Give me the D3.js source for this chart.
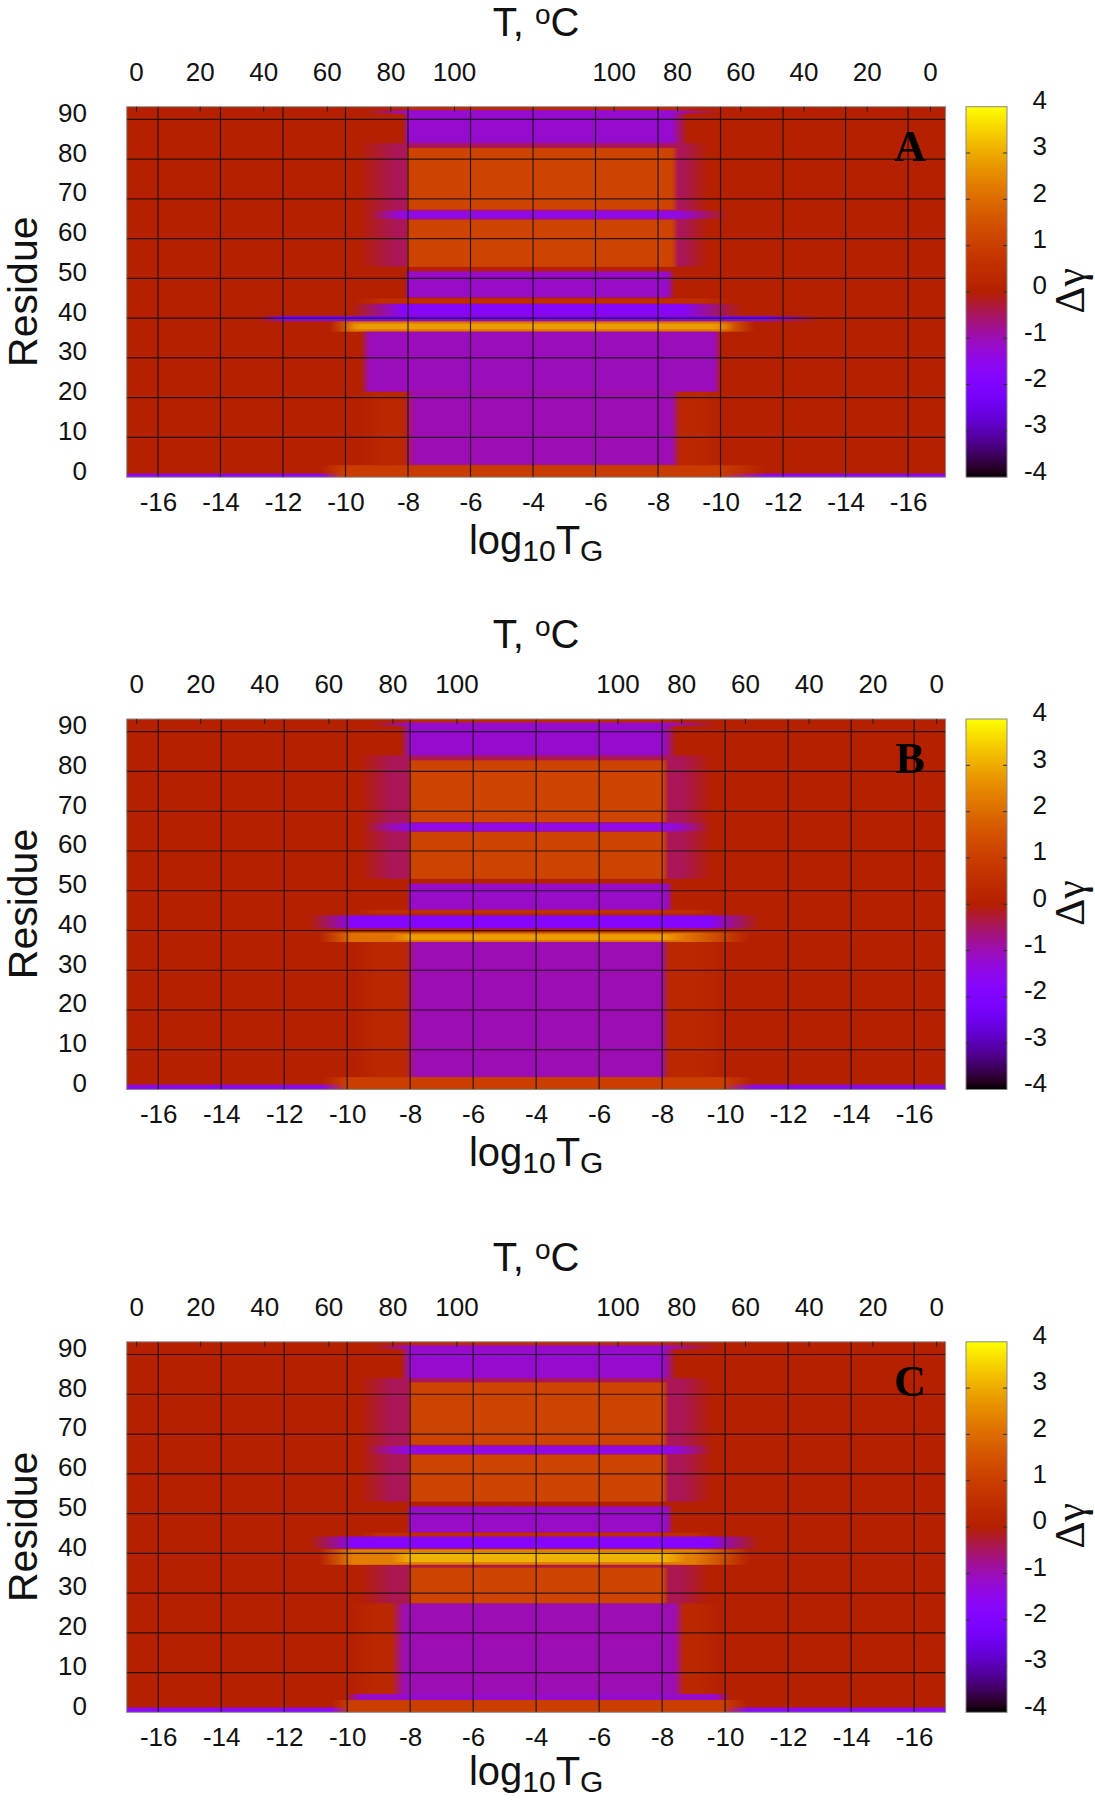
<!DOCTYPE html>
<html>
<head>
<meta charset="utf-8">
<script src="https://cdn.jsdelivr.net/npm/d3@7"></script>
<style>
  body { margin: 0; background: #fff; }
  svg { display: block; }
</style>
</head>
<body>
<svg id="chart" width="1095" height="1800"></svg>
<script>
const svg_width = 1095;
const svg_height = 1800;

// bottom axis is a folded log10 TG scale (heating run, then cooling run)
const tg_tick_pos = [1, 3, 5, 7, 9, 11, 13, 15, 17, 19, 21, 23, 25];
const tg_tick_labels = ["-16", "-14", "-12", "-10", "-8", "-6", "-4", "-6", "-8", "-10", "-12", "-14", "-16"];
// top axis: temperature on the heating branch and on the cooling branch
const temp_ticks = [0, 20, 40, 60, 80, 100];
const heat_span = [0.3, 10.47];   // position of 0 and 100 C while heating
const cool_span = [25.7, 15.58];  // position of 0 and 100 C while cooling
const residue_ticks = [0, 10, 20, 30, 40, 50, 60, 70, 80, 90];
const residue_max = 93.2;
const cb_range = [-4, 4];
const cb_ticks = [-4, -3, -2, -1, 0, 1, 2, 3, 4];

const panel_names = ["A", "B", "C"];
const panel_x_extent = [26.2, 26.0, 26.0];

// each band: [residue_from, residue_to, pos_from, pos_to, delta_gamma, fade_left, fade_right]
// background of every panel is delta_gamma = 0
const bands_A = [
  [0, 0.9, 0, 26.2, -1.6, 0, 0],
  [53, 84, 8.6, 17.8, -0.45, 1.2, 0.8],
  [3, 21.5, 8.4, 18.2, 0.3, 1.1, 1.0],
  [91.4, 92.3, 8.8, 17.6, -0.9, 1.2, 1.4],
  [92.3, 93.2, 9.0, 17.5, 0.35, 0.2, 0.5],
  [84, 92.3, 9.0, 17.45, -1.2, 0.15, 0.5],
  [67.3, 82.8, 9.0, 17.45, 1.15, 0.05, 0.2],
  [65, 67, 8.8, 17.6, -1.4, 1.0, 1.7],
  [52.9, 64.8, 9.0, 17.45, 1.15, 0.05, 0.2],
  [45.2, 51.8, 9.0, 17.3, -1.15, 0.1, 0.25],
  [43.7, 45.0, 8.2, 18.4, 0.5, 1.0, 1.0],
  [40.6, 43.6, 8.8, 17.8, -1.75, 1.6, 1.9],
  [39.3, 40.6, 5.0, 20.4, -1.85, 0.8, 1.8],
  [36.6, 39.2, 7.3, 18.9, 2.2, 0.8, 1.2],
  [37.2, 38.6, 7.5, 18.7, 2.8, 0.5, 0.8],
  [21.5, 36.6, 7.75, 18.8, -1.05, 0.25, 0.25],
  [3.1, 21.5, 9.2, 17.45, -1.0, 0.35, 0.25],
  [0, 3.0, 6.9, 19.0, 0.95, 0.7, 1.5]
];

const bands_B = [
  [0, 1.2, 0, 26, -1.6, 0, 0],
  [53, 84, 8.4, 17.6, -0.45, 1.0, 1.0],
  [3, 37, 8.1, 18.0, 0.3, 1.0, 1.2],
  [91.4, 92.3, 8.8, 17.4, -0.9, 1.0, 1.4],
  [92.3, 93.2, 9.0, 17.05, 0.35, 0.2, 0.5],
  [84, 92.3, 9.0, 17.05, -1.2, 0.3, 0.4],
  [67.3, 82.8, 9.0, 17.05, 1.15, 0.05, 0.15],
  [65, 67, 8.9, 17.3, -1.4, 1.3, 1.2],
  [53, 64.8, 9.0, 17.05, 1.15, 0.05, 0.15],
  [45.2, 51.8, 9.0, 17.15, -1.15, 0.1, 0.2],
  [44.2, 45.2, 8.0, 18.0, 0.55, 0.8, 0.8],
  [40.5, 43.8, 7.2, 18.5, -1.8, 1.4, 1.6],
  [37.1, 39.5, 7.2, 17.8, 2.1, 1.1, 2.0],
  [37.6, 39.0, 9.0, 17.1, 2.8, 0.6, 0.7],
  [3.1, 37.1, 9.15, 17.0, -1.0, 0.3, 0.2],
  [0, 3.1, 7.0, 18.9, 1.0, 0.8, 1.0]
];

const bands_C = [
  [0, 1.2, 0, 26, -1.6, 0, 0],
  [53, 84, 8.4, 17.6, -0.45, 1.0, 1.0],
  [27.4, 37, 8.4, 17.6, -0.4, 1.0, 0.9],
  [4.4, 27.4, 8.0, 18.0, 0.3, 1.0, 1.0],
  [91.4, 92.3, 8.8, 17.4, -0.9, 1.0, 1.4],
  [92.3, 93.2, 9.0, 17.05, 0.35, 0.2, 0.5],
  [84, 92.3, 9.0, 17.05, -1.2, 0.3, 0.4],
  [67.3, 83, 9.0, 17.05, 1.15, 0.05, 0.15],
  [65, 67, 8.9, 17.3, -1.4, 1.3, 1.3],
  [53, 64.8, 9.0, 17.05, 1.15, 0.05, 0.15],
  [45.2, 51.8, 9.0, 17.15, -1.15, 0.1, 0.2],
  [44.2, 45.2, 8.0, 18.0, 0.5, 0.8, 0.8],
  [41.2, 44.2, 7.2, 18.5, -1.8, 1.4, 1.6],
  [37.1, 41.0, 7.2, 18.0, 2.3, 1.1, 1.8],
  [37.8, 40.3, 9.0, 17.1, 3.1, 0.6, 0.7],
  [27.4, 36.4, 9.0, 17.05, 1.15, 0.05, 0.15],
  [4.4, 27.4, 8.8, 17.4, -1.0, 0.4, 0.3],
  [3.1, 4.6, 7.4, 18.7, -1.2, 0.5, 0.5],
  [0, 3.1, 7.1, 18.9, 1.0, 0.6, 0.8]
];

const panel_bands = [bands_A, bands_B, bands_C];

// layout
const panel_tops = [106.7, 719, 1341.8];
const xlab_offsets = [447, 447, 443];  // last one pulled up so it stays on the page
const plot_h = 370.5;
const plot_left = 126.7;
const plot_right = 945.6;
const cb_left = 966;
const cb_right = 1007;
const label_font = "'Liberation Sans', Arial, sans-serif";
const serif_font = "'Liberation Serif', 'Times New Roman', serif";

// gnuplot default pm3d palette (rgbformulae 7,5,15)
function gnuplotColor(v) {
  var t = (v - cb_range[0]) / (cb_range[1] - cb_range[0]);
  t = Math.max(0, Math.min(1, t));
  var r = Math.sqrt(t);
  var g = t * t * t;
  var b = Math.max(0, Math.sin(2 * Math.PI * t));
  return d3.rgb(r * 255, g * 255, b * 255).formatHex();
}

const svg = d3.select("#chart");
const defs = svg.append("defs");

// colour bar gradient, shared by all panels
var cb_grad = defs.append("linearGradient")
  .attr("id", "cb-grad")
  .attr("x1", 0).attr("y1", 1).attr("x2", 0).attr("y2", 0);
cb_grad.selectAll("stop")
  .data(d3.range(0, 1.0001, 0.02))
  .enter().append("stop")
  .attr("offset", d => d)
  .attr("stop-color", d => gnuplotColor(cb_range[0] + d * (cb_range[1] - cb_range[0])));

function styleAxisText(g, size) {
  g.select(".domain").remove();
  g.selectAll(".tick text")
    .attr("font-family", label_font)
    .attr("font-size", size)
    .attr("fill", "#111");
}

function drawPanel(idx) {
  const top = panel_tops[idx];
  const bottom = top + plot_h;
  const bands = panel_bands[idx];

  const x = d3.scaleLinear().domain([0, panel_x_extent[idx]]).range([plot_left, plot_right]);
  const y = d3.scaleLinear().domain([0, residue_max]).range([bottom, top]);
  const heat = d3.scaleLinear().domain([0, 100]).range(heat_span);
  const cool = d3.scaleLinear().domain([0, 100]).range(cool_span);

  const panel = svg.append("g").attr("class", "panel-" + panel_names[idx]);

  defs.append("clipPath").attr("id", "clip-" + idx)
    .append("rect")
    .attr("x", plot_left).attr("y", top)
    .attr("width", plot_right - plot_left).attr("height", plot_h);

  // one gradient per band, fading in and out along the x direction
  bands.forEach(function (b, i) {
    var total = (b[3] + b[6]) - (b[2] - b[5]);
    var col = gnuplotColor(b[4]);
    var stops = [
      { o: 0, a: b[5] > 0 ? 0 : 1 },
      { o: b[5] / total, a: 1 },
      { o: 1 - b[6] / total, a: 1 },
      { o: 1, a: b[6] > 0 ? 0 : 1 }
    ];
    var grad = defs.append("linearGradient")
      .attr("id", "band-" + idx + "-" + i)
      .attr("x1", 0).attr("x2", 1).attr("y1", 0).attr("y2", 0);
    grad.selectAll("stop").data(stops).enter().append("stop")
      .attr("offset", d => d.o)
      .attr("stop-color", col)
      .attr("stop-opacity", d => d.a);
  });

  const heatmap = panel.append("g").attr("clip-path", "url(#clip-" + idx + ")");

  heatmap.append("rect")
    .attr("x", x(0)).attr("y", y(residue_max))
    .attr("width", x(panel_x_extent[idx]) - x(0))
    .attr("height", y(0) - y(residue_max))
    .attr("fill", gnuplotColor(0));

  heatmap.selectAll(".band")
    .data(bands)
    .enter().append("rect")
    .attr("class", "band")
    .attr("x", d => x(d[2] - d[5]))
    .attr("y", d => y(d[1]))
    .attr("width", d => x(d[3] + d[6]) - x(d[2] - d[5]))
    .attr("height", d => y(d[0]) - y(d[1]))
    .attr("fill", (d, i) => "url(#band-" + idx + "-" + i + ")");

  // grid
  panel.append("g").selectAll("line")
    .data(tg_tick_pos)
    .enter().append("line")
    .attr("x1", d => x(d)).attr("x2", d => x(d))
    .attr("y1", top).attr("y2", bottom)
    .attr("stroke", "#111").attr("stroke-opacity", 0.85).attr("stroke-width", 1.2);

  panel.append("g").selectAll("line")
    .data(residue_ticks.filter(d => d > 0))
    .enter().append("line")
    .attr("x1", plot_left).attr("x2", plot_right)
    .attr("y1", d => y(d)).attr("y2", d => y(d))
    .attr("stroke", "#111").attr("stroke-opacity", 0.85).attr("stroke-width", 1.2);

  panel.append("rect")
    .attr("x", plot_left).attr("y", top)
    .attr("width", plot_right - plot_left).attr("height", plot_h)
    .attr("fill", "none").attr("stroke", "#888").attr("stroke-width", 1);

  // residue axis (labels sit a little above their grid lines in the original)
  var left_axis = panel.append("g")
    .attr("transform", "translate(" + plot_left + ",-6.5)")
    .call(d3.axisLeft(y).tickValues(residue_ticks).tickSize(0).tickPadding(39.7));
  styleAxisText(left_axis, 26);

  // log10 TG axis
  var bottom_axis = panel.append("g")
    .attr("transform", "translate(0," + bottom + ")")
    .call(d3.axisBottom(x).tickValues(tg_tick_pos)
      .tickFormat((d, i) => tg_tick_labels[i])
      .tickSize(0).tickPadding(15.5));
  styleAxisText(bottom_axis, 26);

  // temperature axis, ticks point into the plot
  var temp_pos = temp_ticks.map(t => heat(t)).concat(temp_ticks.map(t => cool(t)));
  var temp_lab = temp_ticks.concat(temp_ticks);
  var top_axis = panel.append("g")
    .attr("transform", "translate(0," + top + ")")
    .call(d3.axisTop(x).tickValues(temp_pos)
      .tickFormat((d, i) => temp_lab[i])
      .tickSizeInner(-5).tickSizeOuter(0).tickPadding(26));
  styleAxisText(top_axis, 26);
  top_axis.selectAll(".tick line").attr("stroke", "#222").attr("stroke-width", 1);

  // colour bar
  const cb = d3.scaleLinear().domain(cb_range).range([bottom, top]);
  panel.append("rect")
    .attr("x", cb_left).attr("y", top)
    .attr("width", cb_right - cb_left).attr("height", plot_h)
    .attr("fill", "url(#cb-grad)")
    .attr("stroke", "#888").attr("stroke-width", 1);

  panel.append("g").selectAll("path")
    .data(cb_ticks.slice(1, -1))
    .enter().append("path")
    .attr("d", d => "M" + cb_left + "," + cb(d) + "h4M" + cb_right + "," + cb(d) + "h-4")
    .attr("stroke", "#333").attr("stroke-width", 1);

  var cb_axis = panel.append("g")
    .attr("transform", "translate(1047,-6.5)")
    .call(d3.axisLeft(cb).tickValues(cb_ticks).tickFormat(d => String(d))
      .tickSize(0).tickPadding(0));
  styleAxisText(cb_axis, 26);

  // titles
  var title = panel.append("text")
    .attr("x", (plot_left + plot_right) / 2)
    .attr("y", top - 71)
    .attr("text-anchor", "middle")
    .attr("font-family", label_font)
    .attr("font-size", 40)
    .attr("fill", "#111");
  title.append("tspan").text("T, ");
  title.append("tspan").attr("font-size", 28).attr("dy", -12).text("o");
  title.append("tspan").attr("dy", 12).text("C");

  var xlab = panel.append("text")
    .attr("x", (plot_left + plot_right) / 2)
    .attr("y", top + xlab_offsets[idx])
    .attr("text-anchor", "middle")
    .attr("font-family", label_font)
    .attr("font-size", 40)
    .attr("fill", "#111");
  xlab.append("tspan").text("log");
  xlab.append("tspan").attr("font-size", 30).attr("dy", 7).text("10");
  xlab.append("tspan").attr("dy", -7).text("T");
  xlab.append("tspan").attr("font-size", 30).attr("dy", 7).text("G");

  panel.append("text")
    .attr("transform", "translate(37," + (top + 185) + ") rotate(-90)")
    .attr("text-anchor", "middle")
    .attr("font-family", label_font)
    .attr("font-size", 41)
    .attr("fill", "#111")
    .text("Residue");

  panel.append("text")
    .attr("transform", "translate(1084," + (top + 184) + ") rotate(-90)")
    .attr("text-anchor", "middle")
    .attr("font-family", serif_font)
    .attr("font-size", 42)
    .attr("fill", "#111")
    .text("Δγ");

  panel.append("text")
    .attr("x", 910)
    .attr("y", top + 54)
    .attr("text-anchor", "middle")
    .attr("font-family", serif_font)
    .attr("font-weight", "bold")
    .attr("font-size", 44)
    .attr("fill", "#000")
    .text(panel_names[idx]);
}

panel_names.forEach((name, i) => drawPanel(i));
</script>
</body>
</html>
